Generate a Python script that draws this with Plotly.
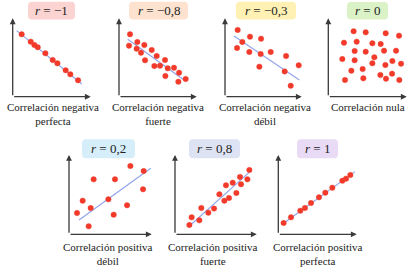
import plotly.graph_objects as go

W, H = 420, 270

# ---------------- data (values on a 0-10 scale per panel) ----------------
p1_x = [1.15, 2.31, 2.78, 3.21, 4.19, 5.13, 5.73, 6.79, 7.39, 8.38]
p1_y = [7.96, 7.02, 6.60, 6.30, 5.53, 4.68, 4.26, 3.36, 2.85, 2.09]
p1_fit_x = [0.51, 8.85]
p1_fit_y = [8.43, 1.62]

p2_x = [1.42, 1.29, 2.36, 2.27, 2.83, 3.26, 3.35, 4.21, 4.55, 4.85, 5.28, 5.92, 6.27, 5.97, 7.08, 7.73, 7.64, 8.58]
p2_y = [7.96, 6.51, 6.98, 6.13, 5.62, 6.60, 4.64, 5.96, 3.91, 5.19, 3.96, 4.68, 3.62, 2.64, 3.70, 3.06, 1.91, 2.26]
p2_fit_x = [1.12, 8.50]
p2_fit_y = [7.32, 2.04]

p3_x = [1.65, 1.57, 2.26, 3.26, 3.17, 4.70, 4.65, 5.96, 4.48, 7.96, 7.78, 9.61, 8.57]
p3_y = [8.51, 6.21, 6.98, 7.66, 5.70, 7.40, 5.45, 5.70, 3.83, 5.19, 3.23, 4.00, 1.40]
p3_fit_x = [1.17, 9.70]
p3_fit_y = [7.74, 2.13]

p4_x = [3.23, 4.77, 7.32, 9.02, 2.00, 3.62, 5.62, 6.68, 3.36, 4.77, 7.11, 8.64, 5.87, 1.79,
        3.36, 5.62, 7.28, 8.17, 9.28, 2.94, 4.38, 6.64, 8.13, 2.13, 4.47, 7.36, 9.06]
p4_y = [8.34, 8.21, 8.09, 7.79, 6.89, 7.02, 6.81, 6.72, 5.83, 5.74, 5.87, 5.87, 5.02, 4.81,
        4.64, 4.26, 4.04, 4.55, 4.21, 3.32, 3.53, 2.77, 2.94, 2.13, 2.34, 2.30, 2.13]

p5_x = [7.42, 9.03, 2.98, 5.56, 8.95, 1.65, 4.76, 0.97, 2.62, 7.02, 5.40, 2.38]
p5_y = [8.61, 7.98, 6.93, 6.93, 5.67, 4.24, 4.41, 2.69, 3.32, 3.66, 2.48, 1.01]
p5_fit_x = [1.21, 9.88]
p5_fit_y = [1.81, 8.32]

p6_x = [9.10, 7.96, 8.86, 7.06, 6.24, 8.08, 5.43, 7.51, 6.04, 6.61, 3.22, 4.78, 2.04, 4.08, 2.98, 1.76]
p6_y = [8.11, 7.23, 6.93, 6.51, 6.18, 6.30, 5.04, 5.21, 4.24, 4.58, 3.32, 3.24, 2.14, 2.73, 1.76, 1.18]
p6_fit_x = [1.76, 9.18]
p6_fit_y = [1.05, 7.90]

p7_x = [0.68, 1.62, 2.81, 3.40, 4.17, 5.19, 6.00, 6.89, 8.17, 8.64, 9.19]
p7_y = [1.43, 2.14, 2.98, 3.32, 3.95, 4.66, 5.25, 5.88, 6.76, 7.02, 7.48]
p7_fit_x = [0.68, 9.79]
p7_fit_y = [1.39, 7.90]

r_labels = ["−1", "−0,8", "−0,3", "0", "0,2", "0,8", "1"]
captions = [
    ["Correlación negativa", "perfecta"],
    ["Correlación negativa", "fuerte"],
    ["Correlación negativa", "débil"],
    ["Correlación nula"],
    ["Correlación positiva", "débil"],
    ["Correlación positiva", "fuerte"],
    ["Correlación positiva", "perfecta"],
]

points = [(p1_x, p1_y), (p2_x, p2_y), (p3_x, p3_y), (p4_x, p4_y),
          (p5_x, p5_y), (p6_x, p6_y), (p7_x, p7_y)]
fits = [(p1_fit_x, p1_fit_y), (p2_fit_x, p2_fit_y), (p3_fit_x, p3_fit_y), None,
        (p5_fit_x, p5_fit_y), (p6_fit_x, p6_fit_y), (p7_fit_x, p7_fit_y)]

# ---------------- layout geometry (pixels) ----------------
axes_px = [
    (12.7, 96.7, 90.7, 18.3),
    (119.0, 96.7, 196.7, 18.3),
    (225.0, 96.7, 301.7, 18.3),
    (328.3, 96.7, 406.7, 18.3),
    (69.0, 234.3, 151.7, 155.0),
    (175.0, 234.3, 256.7, 155.0),
    (278.3, 234.3, 356.7, 155.0),
]
boxes_px = [
    (28, 1.7, 75, 19.5),
    (129, 1.7, 188, 19.5),
    (236, 1.7, 296, 19.5),
    (347, 2.0, 388, 19.5),
    (82, 139.3, 135, 158.3),
    (189, 139.3, 240, 158.3),
    (297, 139.3, 338, 158.3),
]
box_colors = ["#fbd4d1", "#fde2cf", "#fef1b3", "#dbf2c6", "#d6eefa", "#dde3f3", "#e9dbf6"]
cap_cx = [52.7, 158.0, 265.0, 367.7, 108.3, 213.3, 318.3]
cap_top = [100.0, 100.0, 100.0, 100.0, 239.5, 239.5, 239.5]

DOT = "#f23a2b"
FIT = "#8fa3ee"
AX = "#3a3a3a"
SERIF = "Liberation Serif, Times New Roman, serif"

fig = go.Figure()
layout = dict(
    width=W, height=H,
    margin=dict(l=0, r=0, t=0, b=0),
    paper_bgcolor="white", plot_bgcolor="rgba(0,0,0,0)",
    showlegend=False,
)
annotations = []
shapes = []


def px2x(p):
    return p / W


def px2y(p):
    return 1 - p / H


for i in range(7):
    n = i + 1
    xa = "x" if n == 1 else f"x{n}"
    ya = "y" if n == 1 else f"y{n}"
    ox, oy, xe, yt = axes_px[i]
    layout[f"xaxis{n if n > 1 else ''}"] = dict(
        domain=[px2x(ox), px2x(xe)], range=[0, 10], visible=False,
        anchor=ya, fixedrange=True)
    layout[f"yaxis{n if n > 1 else ''}"] = dict(
        domain=[px2y(oy), px2y(yt)], range=[0, 10], visible=False,
        anchor=xa, fixedrange=True)

    if fits[i] is not None:
        fx, fy = fits[i]
        fig.add_trace(go.Scatter(x=fx, y=fy, mode="lines", xaxis=xa, yaxis=ya,
                                 line=dict(color=FIT, width=1.1), hoverinfo="skip",
                                 cliponaxis=False))
    px_, py_ = points[i]
    fig.add_trace(go.Scatter(x=px_, y=py_, mode="markers", xaxis=xa, yaxis=ya,
                             marker=dict(color=DOT, size=5.5,
                                         line=dict(color="rgba(242,58,43,0.35)", width=1)),
                             cliponaxis=False))

    # axis arrows
    for (tx, ty) in [(10, 0), (0, 10)]:
        annotations.append(dict(
            x=tx, y=ty, ax=0, ay=0, xref=xa, yref=ya, axref=xa, ayref=ya,
            text="", showarrow=True, arrowhead=2, arrowsize=0.9,
            arrowwidth=1.3, arrowcolor=AX))

    # rounded label box
    x0, y0, x1, y1 = boxes_px[i]
    r = 4.0
    X0, X1 = px2x(x0), px2x(x1)
    Y0, Y1 = px2y(y0), px2y(y1)
    rx, ry = r / W, r / H
    path = (f"M {X0+rx},{Y0} L {X1-rx},{Y0} Q {X1},{Y0} {X1},{Y0-ry} "
            f"L {X1},{Y1+ry} Q {X1},{Y1} {X1-rx},{Y1} "
            f"L {X0+rx},{Y1} Q {X0},{Y1} {X0},{Y1+ry} "
            f"L {X0},{Y0-ry} Q {X0},{Y0} {X0+rx},{Y0} Z")
    shapes.append(dict(type="path", path=path, xref="paper", yref="paper",
                       fillcolor=box_colors[i], line=dict(width=0), layer="below"))
    annotations.append(dict(
        x=px2x((x0 + x1) / 2), y=px2y((y0 + y1) / 2), xref="paper", yref="paper",
        text=f"<i>r</i> = {r_labels[i]}", showarrow=False,
        font=dict(family=SERIF, size=13, color="#222222"),
        xanchor="center", yanchor="middle"))

    # caption (single text, wrapped)
    annotations.append(dict(
        x=px2x(cap_cx[i]), y=px2y(cap_top[i]), xref="paper", yref="paper",
        text="<br>".join(captions[i]), showarrow=False, align="center",
        font=dict(family=SERIF, size=11, color="#222222"),
        xanchor="center", yanchor="top", borderpad=0))

layout["annotations"] = annotations
layout["shapes"] = shapes
fig.update_layout(**layout)
fig.write_html("out.html")
